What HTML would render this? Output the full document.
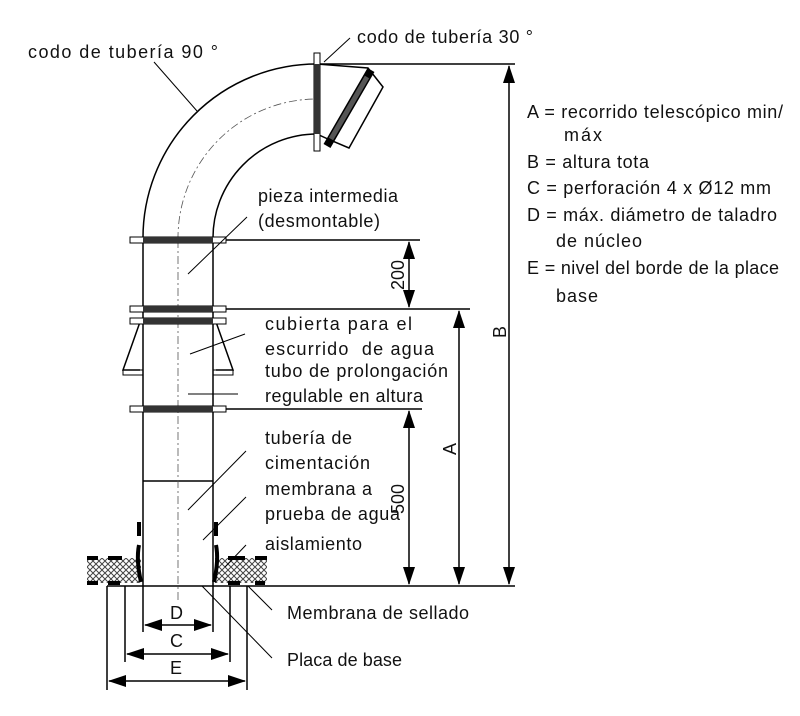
<!DOCTYPE html>
<html><head><meta charset="utf-8"><style>
html,body{margin:0;padding:0;background:#fff;}
svg{display:block;}
text{font-family:"Liberation Sans","DejaVu Sans",sans-serif;font-size:18px;fill:#111;}
</style></head><body>
<svg width="800" height="716" viewBox="0 0 800 716" xmlns="http://www.w3.org/2000/svg">
<defs>
<marker id="ah" markerWidth="18" markerHeight="12" refX="17" refY="6" orient="auto-start-reverse" markerUnits="userSpaceOnUse">
<path d="M0,0 L18,6 L0,12 Z" fill="#000"/>
</marker>
<pattern id="hatch" width="6" height="6" patternUnits="userSpaceOnUse">
<rect width="6" height="6" fill="#fff"/>
<path d="M0,0 L6,6 M6,0 L0,6" stroke="#444" stroke-width="1"/>
</pattern>
</defs>
<g stroke="#000" fill="none" stroke-width="1.5">
<path d="M143,240 A174,174 0 0 1 317,64"/>
<path d="M213,240 A104,104 0 0 1 317,134"/>
<path d="M178,240 A139,139 0 0 1 317,99" stroke-dasharray="8,3,2,3" stroke-width="0.8" stroke="#555"/>
<polygon points="317,64 368,68 383,87 349,148 330,140 317,134" fill="#fff"/>
<line x1="143" y1="240" x2="143" y2="586"/>
<line x1="213" y1="240" x2="213" y2="586"/>
<line x1="143" y1="481" x2="213" y2="481"/>
<line x1="178" y1="240" x2="178" y2="600" stroke-dasharray="8,3,2,3" stroke-width="0.8" stroke="#555"/>
<path d="M140,322 L123,370 L140,370"/>
<path d="M216,322 L233,370 L216,370"/>
<rect x="123" y="370" width="20" height="5" stroke-width="1"/>
<rect x="213" y="370" width="20" height="5" stroke-width="1"/>
<line x1="107" y1="586" x2="515" y2="586"/>
<line x1="107" y1="586" x2="107" y2="690"/>
<line x1="247" y1="586" x2="247" y2="690"/>
<line x1="125" y1="586" x2="125" y2="662"/>
<line x1="230" y1="586" x2="230" y2="662"/>
<line x1="143" y1="586" x2="143" y2="632"/>
<line x1="213" y1="586" x2="213" y2="632"/>
<line x1="317" y1="64" x2="515" y2="64"/>
<line x1="226" y1="240" x2="420" y2="240"/>
<line x1="226" y1="309" x2="470" y2="309"/>
<line x1="226" y1="409" x2="422" y2="409"/>
</g>
<g>
<rect x="130" y="237" width="96" height="6" fill="#fff" stroke="#000"/>
<rect x="143" y="237" width="70" height="6" fill="#333"/>
<rect x="130" y="306" width="96" height="6" fill="#fff" stroke="#000"/>
<rect x="143" y="306" width="70" height="6" fill="#333"/>
<rect x="130" y="318" width="96" height="6" fill="#fff" stroke="#000"/>
<rect x="143" y="318" width="70" height="6" fill="#333"/>
<rect x="130" y="406" width="96" height="6" fill="#fff" stroke="#000"/>
<rect x="143" y="406" width="70" height="6" fill="#333"/>
<rect x="314" y="53" width="6" height="98" fill="#fff" stroke="#000"/>
<rect x="314" y="64" width="6" height="70" fill="#333"/>
<line x1="371" y1="70" x2="327" y2="146" stroke="#000" stroke-width="8"/>
<line x1="367" y1="77" x2="331" y2="139" stroke="#555" stroke-width="5"/>
</g>
<g>
<rect x="87" y="558" width="54" height="25" fill="url(#hatch)"/>
<rect x="215" y="558" width="52" height="25" fill="url(#hatch)"/>
<g stroke="#000" stroke-width="4">
<line x1="87" y1="558" x2="98" y2="558"/><line x1="108" y1="558" x2="122" y2="558"/>
<line x1="87" y1="583" x2="98" y2="583"/><line x1="108" y1="583" x2="120" y2="583"/>
<line x1="228" y1="558" x2="245" y2="558"/><line x1="255" y1="558" x2="267" y2="558"/>
<line x1="228" y1="583" x2="240" y2="583"/><line x1="255" y1="583" x2="265" y2="583"/>
<line x1="139" y1="522" x2="139" y2="536"/><line x1="216" y1="522" x2="216" y2="536"/>
<path d="M139,545 Q136,560 141,582" fill="none"/><path d="M216,545 Q219,560 214,582" fill="none"/>
</g>
</g>
<g stroke="#000" stroke-width="1.5" marker-start="url(#ah)" marker-end="url(#ah)">
<line x1="509" y1="66" x2="509" y2="584"/>
<line x1="459" y1="311" x2="459" y2="584"/>
<line x1="409" y1="242" x2="409" y2="307"/>
<line x1="409" y1="411" x2="409" y2="584"/>
<line x1="145" y1="625" x2="211" y2="625"/>
<line x1="127" y1="654" x2="228" y2="654"/>
<line x1="109" y1="681" x2="245" y2="681"/>
</g>
<g stroke="#000" stroke-width="1">
<line x1="154" y1="62" x2="197" y2="111"/>
<line x1="350" y1="38" x2="324" y2="62"/>
<line x1="247" y1="217" x2="188" y2="274"/>
<line x1="245" y1="334" x2="190" y2="354"/>
<line x1="188" y1="394" x2="238" y2="394"/>
<line x1="246" y1="451" x2="188" y2="510"/>
<line x1="246" y1="497" x2="203" y2="540"/>
<line x1="246" y1="545" x2="225" y2="567"/>
<line x1="248" y1="586" x2="272" y2="610"/>
<line x1="202" y1="586" x2="272" y2="658"/>
</g>
<g lengthAdjust="spacing">
<text x="28" y="58" textLength="190">codo de tubería 90 °</text>
<text x="357" y="43" textLength="176">codo de tubería 30 °</text>
<text x="258" y="202" textLength="140">pieza intermedia</text>
<text x="258" y="227" textLength="122">(desmontable)</text>
<text x="265" y="330" textLength="147">cubierta para el</text>
<text x="265" y="355" textLength="169">escurrido&#160; de agua</text>
<text x="265" y="377" textLength="183">tubo de prolongación</text>
<text x="265" y="402" textLength="158">regulable en altura</text>
<text x="265" y="444" textLength="87">tubería de</text>
<text x="265" y="469" textLength="105">cimentación</text>
<text x="265" y="495" textLength="107">membrana a</text>
<text x="265" y="520" textLength="135">prueba de agua</text>
<text x="265" y="550" textLength="97">aislamiento</text>
<text x="287" y="619" textLength="182">Membrana de sellado</text>
<text x="287" y="666" textLength="115">Placa de base</text>
<text x="170" y="619">D</text>
<text x="170" y="647">C</text>
<text x="170" y="674">E</text>
<text transform="translate(404,290) rotate(-90)">200</text>
<text transform="translate(404,514) rotate(-90)">500</text>
<text transform="translate(456,455) rotate(-90)">A</text>
<text transform="translate(506,338) rotate(-90)">B</text>
<text x="527" y="118" textLength="256">A = recorrido telescópico min/</text>
<text x="564" y="141" textLength="38">máx</text>
<text x="527" y="168" textLength="122">B = altura tota</text>
<text x="527" y="194" textLength="244">C = perforación 4 x Ø12 mm</text>
<text x="527" y="221" textLength="250">D = máx. diámetro de taladro</text>
<text x="556" y="247" textLength="86">de núcleo</text>
<text x="527" y="274" textLength="252">E = nivel del borde de la place</text>
<text x="556" y="302" textLength="42">base</text>
</g>
</svg>
</body></html>
